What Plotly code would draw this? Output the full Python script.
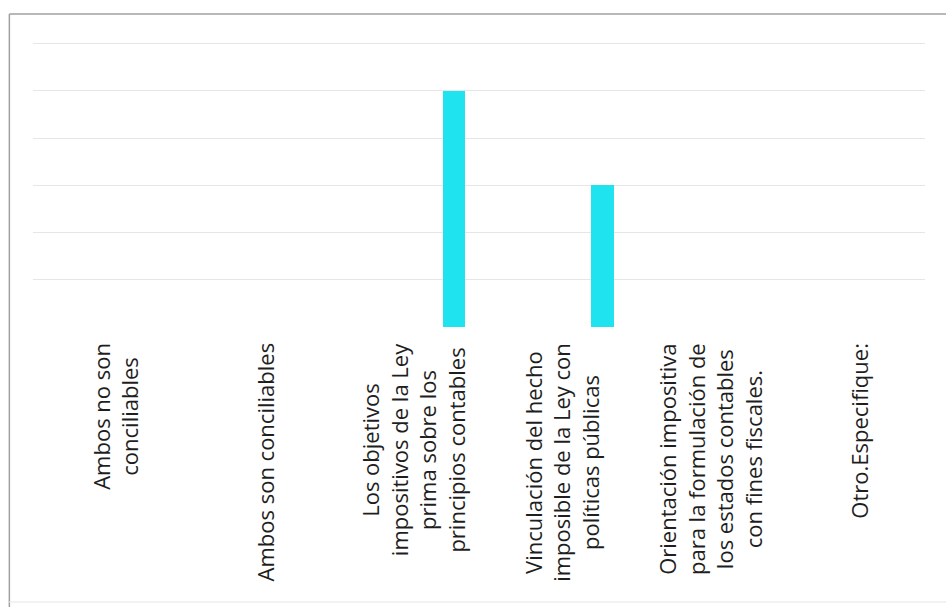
import plotly.graph_objects as go

# Response categories (line breaks as they wrap on the axis)
categories = [
    "Ambos no son<br>conciliables",
    "Ambos son conciliables",
    "Los objetivos<br>impositivos de la Ley<br>prima sobre los<br>principios contables",
    "Vinculación del hecho<br>imposible de la Ley con<br>políticas públicas",
    "Orientación impositiva<br>para la formulación de<br>los estados contables<br>con fines fiscales.",
    "Otro.Especifique:",
]
counts = [0, 0, 5, 3, 0, 0]

BAR_COLOR = "#1FE3EE"
GRID_COLOR = "#E6E6E6"
TEXT_COLOR = "#1E1E1E"
FONT = "'Open Sans', Lato, sans-serif"

x_pos = list(range(len(categories)))

fig = go.Figure()
fig.add_trace(go.Bar(
    x=x_pos,
    y=counts,
    width=0.15,
    offset=0.255,
    marker=dict(color=BAR_COLOR, line=dict(width=0)),
    hoverinfo="skip",
))

# Category labels, rotated and centred line by line
for i, label in enumerate(categories):
    fig.add_annotation(
        x=i, y=0, xref="x", yref="paper",
        text=label, textangle=-90, showarrow=False,
        xanchor="center", yanchor="top", align="center",
        yshift=-14, xshift=8,
        font=dict(family=FONT, size=22, color=TEXT_COLOR),
    )

# Outer frame of the chart
frame = dict(color="#A0A0A0", width=1.5)
fig.add_shape(type="line", xref="paper", yref="paper",
              x0=-0.0265, x1=1.1, y0=1.087, y1=1.087, line=frame)
fig.add_shape(type="line", xref="paper", yref="paper",
              x0=-0.0265, x1=-0.0265, y0=1.087, y1=-1.0, line=frame)
fig.add_shape(type="line", xref="paper", yref="paper",
              x0=-0.0265, x1=1.1, y0=-0.955, y1=-0.955,
              line=dict(color="#EEEEEA", width=1.5))

fig.update_layout(
    width=946, height=607,
    margin=dict(l=33, r=21, t=39, b=280, pad=0),
    paper_bgcolor="white",
    plot_bgcolor="white",
    showlegend=False,
    bargap=0,
    xaxis=dict(
        range=[-0.5, len(categories) - 0.5],
        showticklabels=False, showgrid=False, zeroline=False,
        showline=False, ticks="", fixedrange=True,
    ),
    yaxis=dict(
        range=[0, 6.1], tickvals=[0, 1, 2, 3, 4, 5, 6],
        showticklabels=False, showgrid=True, gridcolor=GRID_COLOR,
        gridwidth=1, zeroline=False, showline=False, ticks="",
        fixedrange=True,
    ),
)

fig.write_html("out.html")
